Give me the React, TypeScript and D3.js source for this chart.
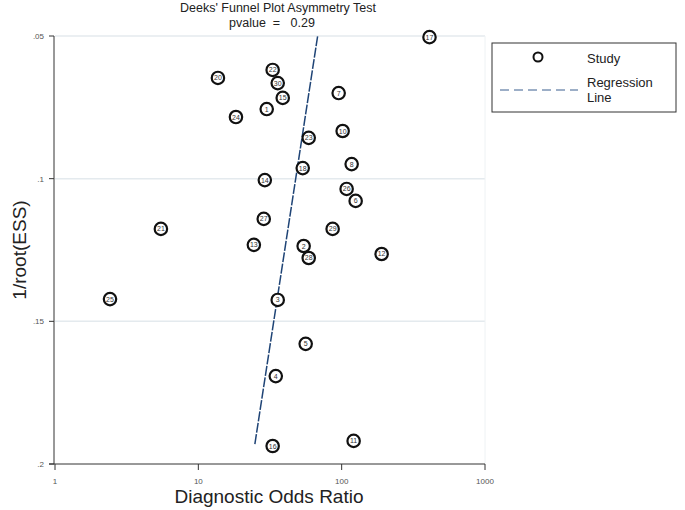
import * as d3 from "d3";

type Study = { id: number; dor: number; ess: number };

// study labels, diagnostic odds ratio, 1/root(ESS)
const studyIds = [17, 20, 22, 30, 15, 1, 24, 7, 10, 23, 8, 18, 14, 26, 6, 27, 21, 13, 2, 28, 29, 12, 3, 25, 5, 4, 16, 11];
const dorValues = [410, 13.7, 33.0, 35.8, 38.8, 30.0, 18.3, 95.3, 101.6, 58.9, 117.4, 53.5, 29.1, 108.3, 125.2, 28.6, 5.48, 24.4, 54.3, 58.9, 86.5, 190, 35.8, 2.42, 56.1, 34.7, 33.0, 121.2];
const essValues = [0.0504, 0.0647, 0.0619, 0.0665, 0.0717, 0.0756, 0.0784, 0.07, 0.0833, 0.0857, 0.0949, 0.0963, 0.1005, 0.1036, 0.1078, 0.1141, 0.1176, 0.1232, 0.1236, 0.1278, 0.1176, 0.1264, 0.1425, 0.1422, 0.1579, 0.1692, 0.1937, 0.1919];

const regDor = [24.8, 68];
const regEss = [0.193, 0.05];

const xTicks = [1, 10, 100, 1000];
const yTicks = [0.05, 0.1, 0.15, 0.2];
const yTickLabels = [".05", ".1", ".15", ".2"];
const gridTicks = [0.05, 0.1, 0.15];

const W = 685;
const H = 510;
const plot = { left: 55, right: 485, top: 36, bottom: 464 };

const studies: Study[] = studyIds.map((id, i) => ({ id, dor: dorValues[i], ess: essValues[i] }));

const x = d3.scaleLog().domain([1, 1000]).range([plot.left, plot.right]);
const y = d3.scaleLinear().domain([0.05, 0.2]).range([plot.top, plot.bottom]);

const regLine = d3
  .line<number>()
  .x((d, i) => x(regDor[i]))
  .y((d, i) => y(regEss[i]));

const font = "Arial, 'Liberation Sans', sans-serif";
const lineColor = "#1f4476";

export default function App() {
  return (
    <svg
      width={W}
      height={H}
      style={{ position: "absolute", left: 0, top: 0, background: "#fff", fontFamily: font }}
    >
      <rect width={W} height={H} fill="#fff" />
      {/* title */}
      <text x={278} y={12} textAnchor="middle" fontSize={12.5} fill="#222">
        Deeks' Funnel Plot Asymmetry Test
      </text>
      <text x={272} y={27} textAnchor="middle" fontSize={12.5} fill="#222" style={{ whiteSpace: "pre" }}>
        {"pvalue  =   0.29"}
      </text>

      {/* gridlines */}
      {gridTicks.map((t) => (
        <line key={t} x1={plot.left} x2={plot.right} y1={y(t)} y2={y(t)} stroke="#e4eaee" strokeWidth={1.5} />
      ))}
      <line x1={plot.right} x2={plot.right} y1={plot.top} y2={plot.bottom} stroke="#eef2f4" strokeWidth={1} />

      {/* y axis */}
      <line x1={plot.left - 1} x2={plot.left - 1} y1={y(0.05)} y2={y(0.2)} stroke="#333" strokeWidth={1} />
      {yTicks.map((t, i) => (
        <g key={t}>
          <line x1={plot.left - 6} x2={plot.left - 1} y1={y(t)} y2={y(t)} stroke="#333" />
          <text x={plot.left - 11} y={y(t) + 3} textAnchor="end" fontSize={8} fill="#555">
            {yTickLabels[i]}
          </text>
        </g>
      ))}
      <text
        transform={`translate(26, ${(plot.top + plot.bottom) / 2}) rotate(-90)`}
        textAnchor="middle"
        fontSize={19}
        fill="#222"
      >
        1/root(ESS)
      </text>

      {/* x axis */}
      <line x1={plot.left - 6} x2={plot.right} y1={plot.bottom} y2={plot.bottom} stroke="#333" strokeWidth={1} />
      {xTicks.map((t) => (
        <g key={t}>
          <line x1={x(t)} x2={x(t)} y1={plot.bottom} y2={plot.bottom + 6} stroke="#333" />
          <text x={x(t)} y={plot.bottom + 20} textAnchor="middle" fontSize={8} fill="#555">
            {t}
          </text>
        </g>
      ))}
      <text x={269} y={503} textAnchor="middle" fontSize={19} fill="#222">
        Diagnostic Odds Ratio
      </text>

      {/* regression line */}
      <path d={regLine(regDor) ?? ""} fill="none" stroke={lineColor} strokeWidth={1.5} strokeDasharray="10,1.5" />

      {/* studies */}
      {studies.map((s) => (
        <g key={s.id} transform={`translate(${x(s.dor)},${y(s.ess)})`}>
          <circle r={6.2} fill="#fff" stroke="#111" strokeWidth={2.2} />
          <text y={2.5} textAnchor="middle" fontSize={7} fill="#333">
            {s.id}
          </text>
        </g>
      ))}

      {/* legend */}
      <rect x={492} y={43} width={184} height={69} fill="#fff" stroke="#333" strokeWidth={1} />
      <circle cx={538} cy={57} r={4.5} fill="none" stroke="#111" strokeWidth={2} />
      <text x={587} y={63} fontSize={13} fill="#222">
        Study
      </text>
      <line x1={500} x2={578} y1={90} y2={90} stroke="#3a5f8f" strokeWidth={1} strokeDasharray="9,5" />
      <text x={587} y={87} fontSize={13} fill="#222">
        Regression
      </text>
      <text x={587} y={102} fontSize={13} fill="#222">
        Line
      </text>
    </svg>
  );
}
